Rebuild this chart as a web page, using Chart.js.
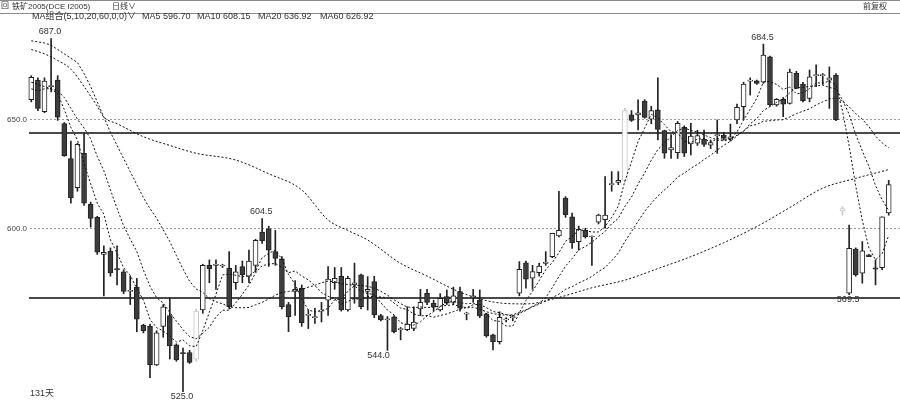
<!DOCTYPE html>
<html>
<head>
<meta charset="utf-8">
<script src="https://cdn.jsdelivr.net/npm/chart.js@4"></script>
<style>
  html, body { margin: 0; padding: 0; background: #fff; }
</style>
</head>
<body>
<canvas id="kline" width="900" height="402"></canvas>
<script>
// daily candles, oldest first (131 days)
var opens = [659,668,653.5,665,668,648,632,618.6,634.4,611,605,588,589.5,581.5,580,571,573,555.5,555,537.3,
  555,560,546.5,543,543,540,562.5,583,583,582.7,581.7,575,582.4,578,583,598.2,599.7,589.3,586,565,
  571,572.5,560,559,562,567,575,578,562.5,574,578.6,571,575.5,560,558,559.4,553.5,553.5,554,563,
  570.2,565.6,562.5,568.7,566,570.9,560.6,568,567.1,560.7,551.1,548,558,559,570.2,584.2,577.1,579.6,583.9,587,
  596.5,613.8,605.3,593.9,599.2,596,602.8,604,620,621,622,652,652,658.4,650,654.3,644.8,636,634.7,646.3,
  638.7,639,640.8,638.1,642.5,642.8,641,649.7,655.8,667.5,667.6,667,678.7,656.6,659.2,657.3,671.1,666.2,659.6,670,
  670,668,670.3,608,570.2,590.5,579.4,587.8,581.9,581.9,607];
var highs = [670,669,669,687,670,648.5,640,639,643.7,612,605.5,592,591,592,581,578,577,556,556,553,
  565,568,547,545,544,563,583.5,585.5,585.5,583.5,589.3,583,585,590,595,604.5,601,599,587,566,
  576,574,562.5,563.3,566,582.4,582,582,578,584,579,577.8,578,560.5,559.5,560,554.5,564,564,572,
  572,567,570,571.7,573,573,561.5,572,571.7,561,551.5,561.7,559,560,584.7,585,583,584,589.3,597.7,
  617,614.5,607,601,600,596.5,606.5,623.7,626,626,655,654,658.9,659,656,669,645,643,649,647,
  648.2,645,645,640.5,649.7,644,647.8,657,667,669,668,684.5,679,659.5,660,673,672,667,672.6,675,
  671,674,671,610,601.5,591,593.9,588,585.5,605.3,622];
var lows = [658,654,653,662.5,649.5,633,611.5,617,610.5,600.5,588,569,578,574,570,565,552.5,552,531.5,537,
  550,540,539,525,538,539,561,575,572,582,563,572,575,575,580,593,582.5,583,563,552.6,
  560,555,554,556.4,557,560,572,562,562,565.6,563,562.5,559,557.5,544,552,548.8,553,553,560,
  565,562,562,565,565,562,558,566,559,550,544.2,546.9,557,557.5,569,572.5,572,578,583,586.5,
  596,605,590.8,590,595.5,583,602,600,617,620,621,649,645.1,650.5,648,640.5,632.1,632,632,632.9,
  633.6,638,637.5,636.5,634.4,640.5,640,648,650,661.1,666,666.5,656,656,651.2,657,664,658,658,665,
  666,655,649.4,606,569.5,578,574.8,587,574,581,606];
var closes = [669.3,655,667.5,665.5,651,633.3,614,638.5,611.5,604.5,589,589,579.5,581,571,571.5,558.3,553,537.3,552,
  564,546,539.6,542.5,538.5,562,583,581.5,583.5,583,564,580,578.7,585,594.5,594.3,590,586.2,564,559.4,
  572,556.7,560.5,559.5,562.5,576.7,577,562.5,577,575,564,572,560.2,558,558.5,552.6,554,556,557,566,
  566,563.8,567.9,565.6,569,563.3,561,569,559.8,550.6,548,559.2,558.3,559.4,581.2,576.6,580.1,582.7,584.5,597.7,
  599,606.2,593.4,599.5,596.2,596.3,606.1,606,620.3,622,654,649.5,653,650.9,654,645.4,634.4,637,648.2,634.4,
  642.3,642.5,638.5,639.3,643,641.3,642,655.5,666.2,668,666.5,679.5,656.6,659.2,656.9,671.6,664.2,658.5,669.5,670.3,
  670.3,669,649.7,609,590.8,578.6,589.7,587,581.2,605.3,620];
// candles printed in light grey in the source
var faintDays = [25, 90, 123];

// moving averages
var ma5 = [664,663,664,664,661.7,654.5,646.3,640.5,629.7,620.4,
  611.5,606.5,594.7,588.6,581.9,578.4,572.3,567,558.2,554.4,
  552.9,550.5,547.8,548.8,546.1,545.7,553.1,561.5,569.7,578.6,
  579,578.4,577.8,578.1,580.4,586.5,588.5,590,585.8,578.8,
  574.3,567.7,562.5,561.6,562.2,563.2,567.2,567.6,571.1,573.6,
  571.1,570.1,569.6,565.8,562.5,560.3,556.7,555.8,555.6,557.1,
  559.8,561.8,564.1,565.9,566.5,565.9,565.4,565.6,564.4,560.7,
  557.7,557.3,555.2,555.1,561.2,566.9,571.1,576,581,584.3,
  588.8,594,596.2,599.2,598.9,598.3,598.3,600.8,605,610.1,
  621.7,630.4,639.8,645.9,652.3,650.6,647.5,644.3,643.8,639.9,
  639.3,640.9,641.2,639.4,641.1,640.9,640.8,644.2,649.6,654.6,
  659.6,667.1,667.4,666,663.7,664.8,661.7,662.1,664.1,666.8,
  666.6,667.5,665.8,653.7,637.8,619.4,603.6,591,585.5,588.4,
  596.70];
var ma10 = [667,666,665,664,663,660,655,650,646,641,
  633,626.4,617.6,609.1,601.1,595,589.4,580.8,573.4,568.2,
  565.7,561.4,557.4,553.5,550.3,549.3,551.8,554.6,559.3,562.4,
  562.4,565.8,569.7,573.9,579.5,582.8,583.5,583.9,582,579.6,
  580.4,578.1,576.3,573.7,570.5,568.8,567.5,565.1,566.4,567.9,
  567.1,568.7,568.6,568.5,568.1,565.7,563.4,562.7,560.7,559.8,
  560,559.2,560,560.7,561.8,562.9,563.6,564.9,565.1,563.6,
  561.8,561.3,560.4,559.8,561,562.3,564.2,565.6,568.1,572.8,
  577.9,582.6,586.1,590.1,591.6,593.6,596.2,598.5,602.1,604.5,
  610,614.3,620.3,625.4,631.2,636.1,639,642.1,644.8,646.1,
  644.9,644.2,642.8,641.6,640.5,640.1,640.9,642.7,644.5,647.9,
  650.3,654,655.8,657.8,659.2,662.2,664.4,664.7,665.1,665.3,
  665.7,664.6,663.9,658.9,652.3,643,635.5,628.4,619.6,613.1,
  608.15];
var ma20 = [686,685.5,685,684,682,680,678,676,671,665,
  658,651,644,638,632,626,620,614,609,604.6,
  599.3,593.9,587.5,581.3,575.7,572.1,570.6,567.7,566.3,565.3,
  564,563.6,563.5,563.7,564.9,566,567.6,569.3,570.6,571,
  571.4,571.9,573,573.8,575,575.8,575.5,574.5,574.2,573.8,
  573.8,573.4,572.5,571.1,569.3,567.2,565.4,563.9,563.6,563.9,
  563.6,563.9,564.3,564.6,564.9,564.3,563.5,563.8,562.9,561.7,
  560.9,560.3,560.2,560.3,561.4,562.6,563.9,565.2,566.6,568.2,
  569.8,572,573.2,574.9,576.3,577.9,580.2,582,585.1,588.6,
  593.9,598.5,603.2,607.8,611.4,614.8,617.6,620.3,623.5,625.3,
  627.5,629.3,631.5,633.5,635.9,638.1,639.9,642.4,644.7,647,
  647.6,649.1,649.3,649.7,649.8,651.1,652.6,653.7,654.8,656.6,
  658,659.3,659.9,658.3,655.7,652.6,650,646.6,642.3,639.2,
  636.92];
// [day, value]
var ma60 = [[0,682],[2,680],[4,677],[6,673],[8,665],[10,656],[11,651],[13,648],[17,642],[21,638],
  [25,634.4],[31,631.3],[36,625],[41,617.6],[45,603.8],[48,599],[51,594.6],[56,583.9],[60,578.1],[65,570.7],
  [70,566.2],[75,565.3],[80,568.3],[85,572.7],[90,576.2],[95,581.5],[100,587],[105,593.4],[110,600.8],[115,609.5],
  [120,618.4],[125,622.9],[130,626.92]];

var gridValues = [650, 600];
var levelLines = [643.6, 568.2];
var highMarks = [3, 35, 111];
var lowMarks = [23, 54, 124];

var days = closes.map(function (c, i) { return String(i); });

var DOWN_FILL = '#3d3d3d', FAINT = '#c8c8c8';
var bodyFill = [], bodyBorder = [], wickColor = [];
closes.forEach(function (c, i) {
  var faint = faintDays.indexOf(i) >= 0;
  var up = c >= opens[i];
  bodyFill.push(up || faint ? '#fff' : DOWN_FILL);
  bodyBorder.push(faint ? FAINT : '#222');
  wickColor.push(faint ? FAINT : '#222');
});

var FONT = '"Liberation Sans", "Noto Sans CJK SC", sans-serif';

var decor = {
  id: 'decor',
  beforeDraw: function (chart) {
    var ctx = chart.ctx, y = chart.scales.y;
    ctx.save();
    ctx.fillStyle = '#fff';
    ctx.fillRect(0, 0, chart.width, chart.height);

    // dotted price grid with labels
    ctx.strokeStyle = '#9a9a9a';
    ctx.lineWidth = 1;
    ctx.setLineDash([2, 2]);
    ctx.fillStyle = '#444';
    ctx.font = '8px ' + FONT;
    ctx.textAlign = 'right';
    ctx.textBaseline = 'middle';
    gridValues.forEach(function (v) {
      var py = Math.round(y.getPixelForValue(v)) + 0.5;
      ctx.beginPath();
      ctx.moveTo(30, py);
      ctx.lineTo(900, py);
      ctx.stroke();
      ctx.fillText(v.toFixed(1), 27, py);
    });

    // drawn support / resistance lines
    ctx.setLineDash([]);
    ctx.strokeStyle = '#4a4a4a';
    ctx.lineWidth = 2;
    levelLines.forEach(function (v) {
      var py = Math.round(y.getPixelForValue(v));
      ctx.beginPath();
      ctx.moveTo(29, py);
      ctx.lineTo(900, py);
      ctx.stroke();
    });

    // header frame
    ctx.strokeStyle = '#8a8a8a';
    ctx.lineWidth = 1;
    ctx.beginPath();
    ctx.moveTo(0, 0.5); ctx.lineTo(900, 0.5);
    ctx.moveTo(0, 13.5); ctx.lineTo(900, 13.5);
    ctx.stroke();
    ctx.restore();
  },
  afterDraw: function (chart) {
    var ctx = chart.ctx, x = chart.scales.x, y = chart.scales.y;
    ctx.save();
    ctx.fillStyle = '#333';
    ctx.textBaseline = 'middle';

    ctx.font = '8px ' + FONT;
    ctx.textAlign = 'left';
    ctx.fillText('回', 1, 6);
    ctx.fillText('铁矿2005(DCE I2005)', 12, 6.5);
    ctx.fillText('日线∨', 112, 6.5);
    ctx.textAlign = 'right';
    ctx.fillText('前复权', 887, 7);

    ctx.font = '9px ' + FONT;
    ctx.textAlign = 'left';
    ctx.fillText('MA组合(5,10,20,60,0,0)∨', 32, 17);
    ctx.fillText('MA5 ' + ma5[ma5.length - 1].toFixed(2), 142, 17);
    ctx.fillText('MA10 ' + ma10[ma10.length - 1].toFixed(2), 197, 17);
    ctx.fillText('MA20 ' + ma20[ma20.length - 1].toFixed(2), 258, 17);
    ctx.fillText('MA60 ' + ma60[ma60.length - 1][1].toFixed(2), 320, 17);

    ctx.fillText(closes.length + '天', 30, 394);

    // high / low markers
    ctx.textAlign = 'center';
    highMarks.forEach(function (i) {
      ctx.fillText(highs[i].toFixed(1), x.getPixelForValue(i) - 1, y.getPixelForValue(highs[i]) - 7);
    });
    lowMarks.forEach(function (i, k) {
      var dx = k === 1 ? -9 : -1;
      ctx.fillText(lows[i].toFixed(1), x.getPixelForValue(i) + dx, y.getPixelForValue(lows[i]) + 5);
    });
    ctx.restore();
  }
};

function maLine(data) {
  return {
    type: 'line',
    data: data,
    borderColor: '#111',
    borderWidth: 1,
    borderDash: [2, 2],
    pointRadius: 0,
    tension: 0,
    order: 0
  };
}

var ma60Line = maLine(ma60.map(function (p) { return { x: String(p[0]), y: p[1] }; }));
ma60Line.cubicInterpolationMode = 'monotone';

new Chart(document.getElementById('kline'), {
  type: 'bar',
  data: {
    labels: days,
    datasets: [
      {
        data: lows.map(function (l, i) { return [l, highs[i]]; }),
        backgroundColor: wickColor,
        barThickness: 1,
        grouped: false,
        order: 2
      },
      {
        data: opens.map(function (o, i) { return [o, closes[i]]; }),
        backgroundColor: bodyFill,
        borderColor: bodyBorder,
        borderWidth: 1,
        borderSkipped: false,
        barThickness: 5,
        minBarLength: 1,
        grouped: false,
        order: 1
      },
      maLine(ma5),
      maLine(ma10),
      maLine(ma20),
      ma60Line
    ]
  },
  options: {
    responsive: false,
    animation: false,
    devicePixelRatio: 1,
    layout: { padding: { left: 28, right: 8, top: 14, bottom: 0 } },
    plugins: { legend: { display: false }, tooltip: { enabled: false } },
    scales: {
      x: { display: false, offset: true, grid: { display: false } },
      y: { display: false, min: 520.3, max: 698.3 }
    }
  },
  plugins: [decor]
});
</script>
</body>
</html>
